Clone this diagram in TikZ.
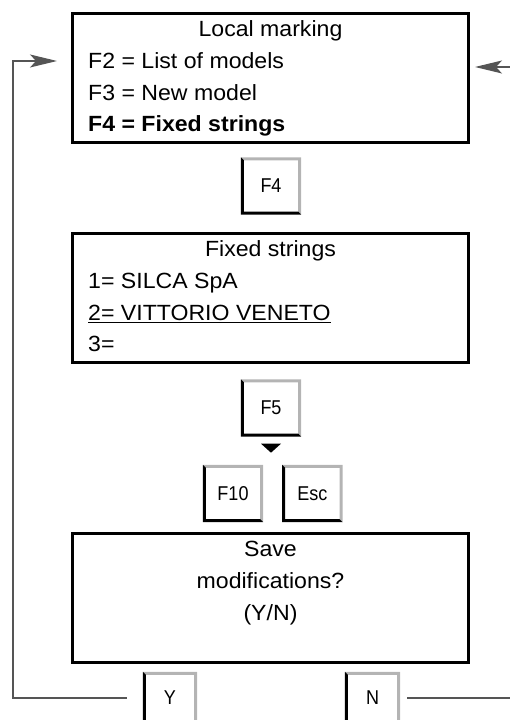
\documentclass[tikz,border=0pt]{standalone}
\usepackage{fontspec}
\setmainfont{Liberation Sans}
\usepackage{graphicx}
\usepackage{tikz}
\usetikzlibrary{arrows.meta, positioning, calc}
\definecolor{inkcolor}{HTML}{000000}
\definecolor{loopcolor}{HTML}{555555}
\definecolor{shadecolor}{HTML}{B4B4B4}
\newcommand{\widetext}[1]{\scalebox{1.05}[1]{#1}}
\newcommand{\narrowtext}[1]{\scalebox{0.9}[1]{#1}}

\begin{document}
\begin{tikzpicture}[x=1pt, y=1pt,
  screen/.style={draw=inkcolor, line width=3pt, minimum width=396pt,
    minimum height=129pt, inner sep=0pt},
  txt/.style={font=\fontsize{22}{26}\selectfont, inner sep=0pt},
  keycap/.style={minimum width=60pt, minimum height=57pt, inner sep=0pt,
    font=\fontsize{20}{24}\selectfont},
  loopline/.style={draw=loopcolor, line width=1.2pt,
    -{Stealth[length=27pt, width=13pt, inset=6pt]}}]
  \useasboundingbox (0,0) rectangle (510,720);
  \clip (0,0) rectangle (510,720);

  \node[screen] (menu) at (270.5,642) {};
  \node[screen] (strings) at (270.5,422) {};
  \node[screen] (save) at (270.5,122) {};

  \node[txt, anchor=base] (menu-t) at ($(menu.north)+(0,-25)$) {\widetext{Local marking}};
  \node[txt, anchor=base west] (menu-a) at ($(menu.north west)+(17,-57)$) {\widetext{F2 = List of models}};
  \node[txt, anchor=base west] (menu-b) at ($(menu.north west)+(17,-88.5)$) {\widetext{F3 = New model}};
  \node[txt, anchor=base west] (menu-c) at ($(menu.north west)+(17,-120)$) {\widetext{\bfseries F4 = Fixed strings}};

  \node[txt, anchor=base] (strings-t) at ($(strings.north)+(0,-25)$) {\widetext{Fixed strings}};
  \node[txt, anchor=base west] (strings-a) at ($(strings.north west)+(17,-57)$) {\widetext{1= SILCA SpA}};
  \node[txt, anchor=base west] (strings-b) at ($(strings.north west)+(17,-88.5)$) {\widetext{\underline{2= VITTORIO VENETO}}};
  \node[txt, anchor=base west] (strings-c) at ($(strings.north west)+(17,-120)$) {\widetext{3=}};

  \node[txt, anchor=base] (save-a) at ($(save.north)+(0,-25)$) {\widetext{Save}};
  \node[txt, anchor=base] (save-b) at ($(save.north)+(0,-57)$) {\widetext{modifications?}};
  \node[txt, anchor=base] (save-c) at ($(save.north)+(0,-88.5)$) {\widetext{(Y/N)}};

  \node[keycap] (kf4) at (271,534) {\narrowtext{F4}};
  \node[keycap] (kf5) at (271,312) {\narrowtext{F5}};
  \node[keycap] (kf10) at (233,226.5) {\narrowtext{F10}};
  \node[keycap, right=19pt of kf10] (kesc) {\narrowtext{Esc}};
  \node[keycap, minimum width=54pt, minimum height=52pt] (ky) at (170,22) {\narrowtext{Y}};
  \node[keycap, minimum width=55pt, minimum height=52pt] (kn) at (372.5,22) {\narrowtext{N}};

  \foreach \k in {kf4,kf5,kf10,kesc,ky,kn} {
    \fill[shadecolor] (\k.north west) -- (\k.north east) -- (\k.south east)
      -- ($(\k.south east)+(-3,3)$) -- ($(\k.north east)+(-3,-3)$)
      -- ($(\k.north west)+(3,-3)$) -- cycle;
    \fill[inkcolor] (\k.north west) -- ($(\k.north west)+(3,-3)$)
      -- ($(\k.south west)+(3,3)$) -- ($(\k.south east)+(-3,3)$)
      -- (\k.south east) -- (\k.south west) -- cycle;
  }

  \fill[inkcolor] ($(kf5.south)+(-10,-7)$) -- ++(20,0) -- ++(-10,-9) -- cycle;

  \coordinate (cornerL) at (13,22);
  \coordinate (cornerR) at (525,22);
  \draw[loopline, shorten <=16pt, shorten >=14pt]
    (ky.west) -- (cornerL) |- ($(menu.west)+(0,17)$);
  \draw[loopline, shorten <=7pt, shorten >=5pt]
    (kn.east) -- (cornerR) |- ($(menu.east)+(0,11)$);
\end{tikzpicture}
\end{document}
